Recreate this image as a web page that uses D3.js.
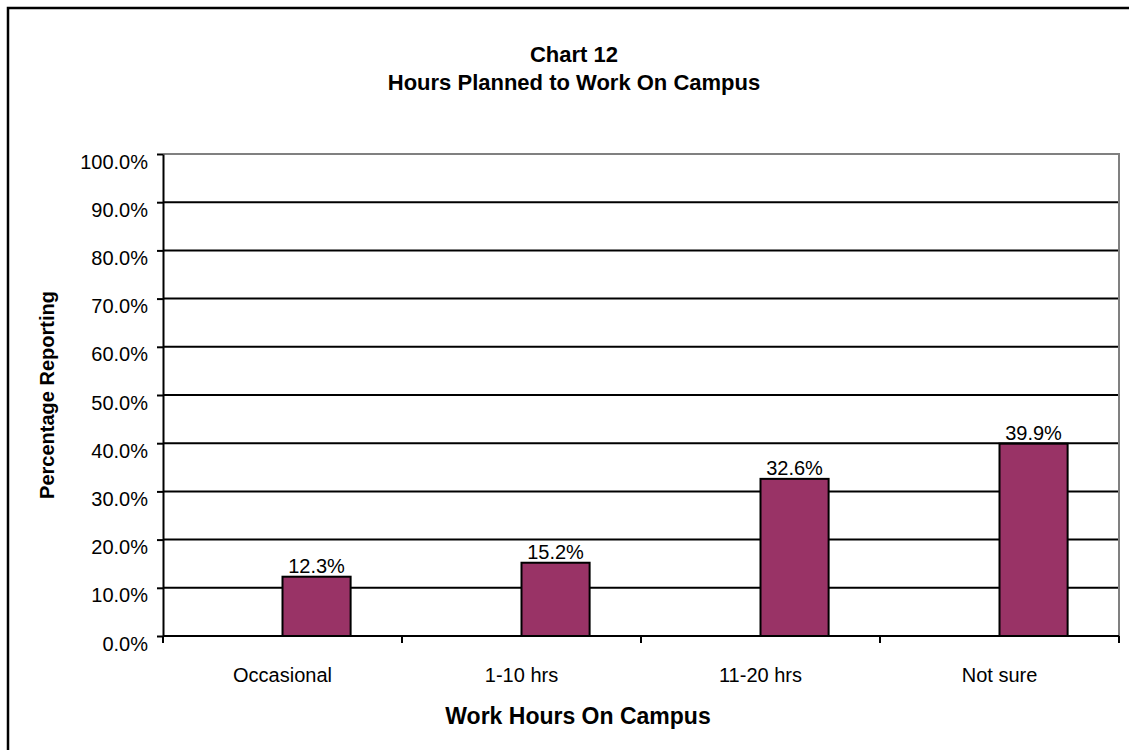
<!DOCTYPE html>
<html>
<head>
<meta charset="utf-8">
<script src="https://cdn.jsdelivr.net/npm/d3@7"></script>
<style>
  body { margin: 0; background: #fff; }
  text { font-family: "Liberation Sans", Arial, sans-serif; fill: #000; }
</style>
</head>
<body>
<div id="chart"></div>
<script>
// data
const categories = ["Occasional", "1-10 hrs", "11-20 hrs", "Not sure"];
const percents = [12.3, 15.2, 32.6, 39.9];
const yTicks = [0, 10, 20, 30, 40, 50, 60, 70, 80, 90, 100];
const titleLines = ["Chart 12", "Hours Planned to Work On Campus"];

const width = 1129, height = 750;
const margin = {top: 154, right: 10, bottom: 114, left: 163};
const plotW = 1119 - margin.left;
const plotH = 636 - margin.top;

let svg = d3.select("#chart").append("svg")
    .attr("width", width)
    .attr("height", height);

// outer frame (right and bottom run off the page)
svg.append("rect")
    .attr("x", 8).attr("y", 8)
    .attr("width", 1150).attr("height", 780)
    .attr("fill", "none")
    .attr("stroke", "#000")
    .attr("stroke-width", 2.5);

let x = d3.scaleBand()
    .domain(categories)
    .range([margin.left, margin.left + plotW])
    .padding(0);

let y = d3.scaleLinear()
    .domain([0, 100])
    .range([margin.top + plotH, margin.top]);

// gridlines
svg.append("g").selectAll("line")
    .data(yTicks.filter(d => d > 0 && d < 100))
    .enter().append("line")
    .attr("x1", margin.left).attr("x2", margin.left + plotW)
    .attr("y1", d => y(d)).attr("y2", d => y(d))
    .attr("stroke", "#000")
    .attr("stroke-width", 2);

// plot border top + right (grey)
svg.append("path")
    .attr("d", `M${margin.left},${y(100)}H${margin.left + plotW}V${y(0)}`)
    .attr("fill", "none")
    .attr("stroke", "#808080")
    .attr("stroke-width", 2);

// bars: start at the band centre, like an excel cluster
let barW = x.bandwidth() * 0.285;
svg.append("g").selectAll("rect")
    .data(percents)
    .enter().append("rect")
    .attr("x", (d, i) => x(categories[i]) + x.bandwidth() / 2)
    .attr("y", d => y(d))
    .attr("width", barW)
    .attr("height", d => y(0) - y(d))
    .attr("fill", "#993366")
    .attr("stroke", "#000")
    .attr("stroke-width", 2);

// value labels
svg.append("g").selectAll("text")
    .data(percents)
    .enter().append("text")
    .attr("x", (d, i) => x(categories[i]) + x.bandwidth() / 2 + barW / 2)
    .attr("y", d => y(d) - 4)
    .attr("text-anchor", "middle")
    .style("font-size", "20px")
    .text(d => d.toFixed(1) + "%");

// y axis
let yAxis = d3.axisLeft(y)
    .tickValues(yTicks)
    .tickSize(6)
    .tickSizeOuter(0)
    .tickFormat(d => d.toFixed(1) + "%");
let gy = svg.append("g")
    .attr("transform", `translate(${margin.left},0)`)
    .call(yAxis);
gy.select(".domain").attr("stroke", "#000").attr("stroke-width", 2);
gy.selectAll(".tick line").attr("stroke", "#000").attr("stroke-width", 2);
gy.selectAll(".tick text")
    .attr("x", -15)
    .attr("dy", "0.7em")
    .style("font-size", "20px")
    .style("font-family", "'Liberation Sans', Arial, sans-serif")
    .attr("fill", "#000");

// x axis: ticks between categories
let gx = svg.append("g")
    .attr("transform", `translate(0,${y(0)})`);
gx.append("line")
    .attr("x1", margin.left).attr("x2", margin.left + plotW)
    .attr("stroke", "#000").attr("stroke-width", 2);
let xEdges = categories.map(c => x(c)).concat([margin.left + plotW]);
gx.selectAll("line.tk")
    .data(xEdges)
    .enter().append("line")
    .attr("class", "tk")
    .attr("x1", d => d).attr("x2", d => d)
    .attr("y1", 0).attr("y2", 7)
    .attr("stroke", "#000").attr("stroke-width", 2);
gx.selectAll("text")
    .data(categories)
    .enter().append("text")
    .attr("x", d => x(d) + x.bandwidth() / 2)
    .attr("y", 46)
    .attr("text-anchor", "middle")
    .style("font-size", "20px")
    .text(d => d);

// titles
svg.append("text")
    .attr("x", 574).attr("y", 62)
    .attr("text-anchor", "middle")
    .style("font-size", "22px").style("font-weight", "bold")
    .selectAll("tspan")
    .data(titleLines)
    .enter().append("tspan")
    .attr("x", 574)
    .attr("dy", (d, i) => i === 0 ? 0 : 28)
    .text(d => d);

svg.append("text")
    .attr("x", 578).attr("y", 724)
    .attr("text-anchor", "middle")
    .style("font-size", "23px").style("font-weight", "bold")
    .text("Work Hours On Campus");

svg.append("text")
    .attr("transform", `translate(54,${margin.top + plotH / 2}) rotate(-90)`)
    .attr("text-anchor", "middle")
    .style("font-size", "20px").style("font-weight", "bold")
    .text("Percentage Reporting");
</script>
</body>
</html>
